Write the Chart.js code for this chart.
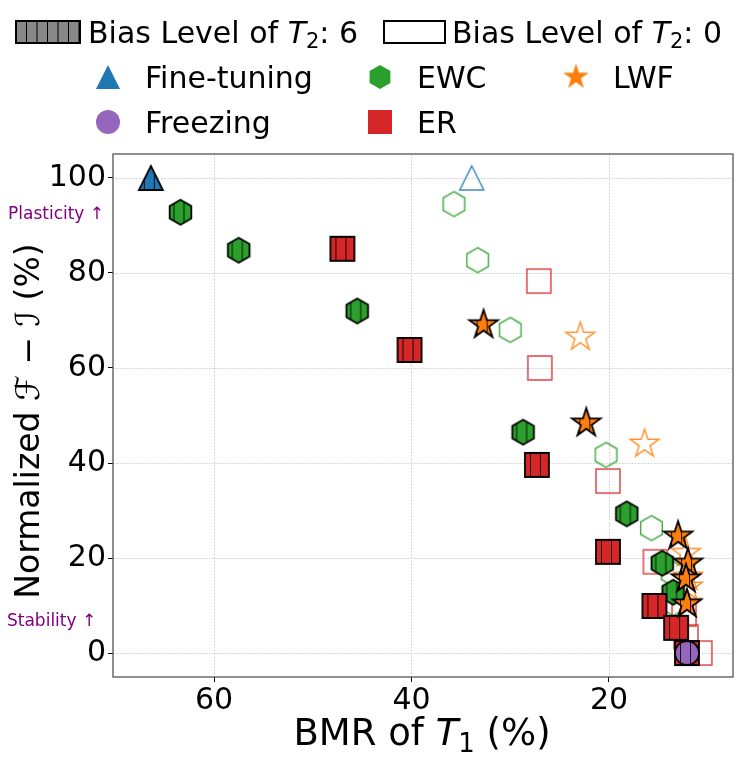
<!DOCTYPE html>
<html>
<head>
<meta charset="utf-8">
<script src="https://cdn.jsdelivr.net/npm/chart.js@4.4.1/dist/chart.umd.min.js"></script>
<style>
  html, body { margin: 0; padding: 0; background: #fff; }
</style>
</head>
<body>
<canvas id="chart" width="747" height="759"></canvas>
<script>
// tick labels
const xTicks = [60, 40, 20]
const yTicks = [0, 20, 40, 60, 80, 100]

// bias level of T2 = 6 (hatched markers, black edge)
const ftBiasX = [66.4]
const ftBiasY = [100]
const ewcBiasX = [63.4, 57.5, 45.5, 28.7, 18.2, 14.6, 13.5]
const ewcBiasY = [92.8, 84.8, 72.0, 46.5, 29.3, 18.9, 12.8]
const erBiasX = [47.0, 40.2, 27.3, 20.1, 15.4, 13.2, 12.1]
const erBiasY = [85.1, 63.8, 39.6, 21.3, 9.9, 5.3, 0]
const lwfBiasX = [32.7, 22.3, 13.0, 12.0, 12.2, 12.1]
const lwfBiasY = [69.1, 48.4, 24.6, 18.9, 15.6, 10.3]
const frzBiasX = [12.1]
const frzBiasY = [0]

// bias level of T2 = 0 (hollow markers)
const ftCleanX = [33.9]
const ftCleanY = [100]
const ewcCleanX = [35.7, 33.3, 30.0, 20.3, 15.7, 13.6, 13.5]
const ewcCleanY = [94.5, 82.7, 68.0, 41.7, 26.3, 16.8, 10.5]
const erCleanX = [27.1, 27.0, 20.1, 15.3, 12.4, 12.2, 10.8]
const erCleanY = [78.3, 60.0, 36.2, 19.2, 8.2, 3.4, 0]
const lwfCleanX = [22.9, 16.4, 12.2, 12.0, 12.0, 12.1]
const lwfCleanY = [66.5, 44.0, 21.0, 16.0, 13.9, 10.5]

const BLUE = '#1f77b4', ORANGE = '#ff7f0e', GREEN = '#2ca02c', RED = '#d62728', PURPLE = '#9467bd'
const FONT = '"DejaVu Sans", "Liberation Sans", sans-serif'

function shapePath(c, shape, cx, cy, s) {
  c.beginPath()
  if (shape === 'triangle') {
    c.moveTo(cx, cy - s / 2)
    c.lineTo(cx + s / 2, cy + s / 2)
    c.lineTo(cx - s / 2, cy + s / 2)
  } else if (shape === 'square') {
    c.rect(cx - s / 2, cy - s / 2, s, s)
  } else if (shape === 'circle') {
    c.arc(cx, cy, s / 2, 0, Math.PI * 2)
  } else if (shape === 'hexagon') {
    for (let i = 0; i < 6; i++) {
      let a = -Math.PI / 2 + i * Math.PI / 3
      c.lineTo(cx + s / 2 * Math.cos(a), cy + s / 2 * Math.sin(a))
    }
  } else if (shape === 'star') {
    for (let i = 0; i < 10; i++) {
      let r = i % 2 ? s / 2 * 0.382 : s / 2
      let a = -Math.PI / 2 + i * Math.PI / 5
      c.lineTo(cx + r * Math.cos(a), cy + r * Math.sin(a))
    }
  }
  c.closePath()
}

// marker sprite: hatched = filled with vertical lines + black edge, else hollow coloured edge
function makeMarker(shape, size, color, mode) {
  let dim = Math.ceil(size + 6)
  let cv = document.createElement('canvas')
  cv.width = dim
  cv.height = dim
  let c = cv.getContext('2d')
  let m = dim / 2
  shapePath(c, shape, m, m, size)
  if (mode === 'hatch') {
    c.fillStyle = color
    c.fill()
    c.save()
    c.clip()
    c.strokeStyle = 'rgba(0,0,0,0.85)'
    c.lineWidth = 1
    for (let x = m - 40 + 3.5; x < dim; x += 10) {
      c.beginPath(); c.moveTo(x, 0); c.lineTo(x, dim); c.stroke()
    }
    c.restore()
    shapePath(c, shape, m, m, size)
    c.strokeStyle = '#000'
    c.lineWidth = 1.8
    c.lineJoin = 'miter'
    c.stroke()
  } else if (mode === 'hollow') {
    c.globalAlpha = 0.85
    c.strokeStyle = color
    c.lineWidth = 1.5
    c.stroke()
  } else {
    c.fillStyle = color
    c.fill()
  }
  return cv
}

const sizes = { triangle: 24, hexagon: 25, square: 24, star: 30, circle: 24 }

function pts(xs, ys) {
  return xs.map((x, i) => ({ x: x, y: ys[i] }))
}

function ds(label, xs, ys, shape, color, mode, order) {
  return {
    label: label,
    data: pts(xs, ys),
    pointStyle: makeMarker(shape, sizes[shape], color, mode),
    pointRadius: 12,
    showLine: false,
    order: order
  }
}

const datasets = [
  ds('Freezing (6)', frzBiasX, frzBiasY, 'circle', PURPLE, 'hatch', 0),
  ds('LWF (6)', lwfBiasX, lwfBiasY, 'star', ORANGE, 'hatch', 1),
  ds('ER (6)', erBiasX, erBiasY, 'square', RED, 'hatch', 2),
  ds('EWC (6)', ewcBiasX, ewcBiasY, 'hexagon', GREEN, 'hatch', 3),
  ds('Fine-tuning (6)', ftBiasX, ftBiasY, 'triangle', BLUE, 'hatch', 4),
  ds('LWF (0)', lwfCleanX, lwfCleanY, 'star', ORANGE, 'hollow', 5),
  ds('ER (0)', erCleanX, erCleanY, 'square', RED, 'hollow', 6),
  ds('EWC (0)', ewcCleanX, ewcCleanY, 'hexagon', GREEN, 'hollow', 7),
  ds('Fine-tuning (0)', ftCleanX, ftCleanY, 'triangle', BLUE, 'hollow', 8)
]

// text made of several font runs (for T_2, script letters)
function drawRuns(c, parts, x, y, align) {
  let w = 0
  parts.forEach(p => { c.font = p.f; w += c.measureText(p.t).width })
  let cx = align === 'center' ? x - w / 2 : x
  parts.forEach(p => {
    c.font = p.f
    c.fillText(p.t, cx, y + (p.dy || 0))
    cx += c.measureText(p.t).width
  })
}

function biasLabel(v) {
  return [
    { t: 'Bias Level of ', f: '30px ' + FONT },
    { t: 'T', f: 'italic 30px ' + FONT },
    { t: '2', f: '21px ' + FONT, dy: 5 },
    { t: ': ' + v, f: '30px ' + FONT }
  ]
}

const legendItems = [
  { label: 'Fine-tuning', shape: 'triangle', color: BLUE, x: 108, y: 77 },
  { label: 'EWC', shape: 'hexagon', color: GREEN, x: 380, y: 77 },
  { label: 'LWF', shape: 'star', color: ORANGE, x: 576, y: 77 },
  { label: 'Freezing', shape: 'circle', color: PURPLE, x: 108, y: 122 },
  { label: 'ER', shape: 'square', color: RED, x: 380, y: 122 }
]

// dotted grid through the scales
const dotGrid = {
  id: 'dotGrid',
  beforeDatasetsDraw(chart) {
    const c = chart.ctx
    const a = chart.chartArea
    const xs = chart.scales.x
    const ys = chart.scales.y
    c.save()
    c.strokeStyle = '#cccccc'
    c.lineWidth = 1
    c.setLineDash([1.6, 1.6])
    xTicks.forEach(v => {
      let px = Math.round(xs.getPixelForValue(v)) + 0.5
      c.beginPath(); c.moveTo(px, a.top); c.lineTo(px, a.bottom); c.stroke()
    })
    yTicks.forEach(v => {
      let py = Math.round(ys.getPixelForValue(v)) + 0.5
      c.beginPath(); c.moveTo(a.left, py); c.lineTo(a.right, py); c.stroke()
    })
    c.restore()
  }
}

const decor = {
  id: 'decor',
  afterDraw(chart) {
    const c = chart.ctx
    const a = chart.chartArea
    c.save()
    c.strokeStyle = '#555'
    c.lineWidth = 1.3
    c.strokeRect(a.left, a.top, a.right - a.left, a.bottom - a.top)

    c.textAlign = 'left'
    c.textBaseline = 'alphabetic'
    c.fillStyle = '#000'

    // bias level patches
    c.fillStyle = '#888'
    c.fillRect(16, 21, 64, 22)
    c.save()
    c.beginPath(); c.rect(16, 21, 64, 22); c.clip()
    c.strokeStyle = '#000'; c.lineWidth = 1
    for (let x = 26.5; x < 80; x += 10.5) {
      c.beginPath(); c.moveTo(x, 21); c.lineTo(x, 43); c.stroke()
    }
    c.restore()
    c.strokeStyle = '#000'; c.lineWidth = 2
    c.strokeRect(16, 21, 64, 22)
    c.fillStyle = '#fff'
    c.fillRect(384, 21, 61, 22)
    c.strokeRect(384, 21, 61, 22)
    c.fillStyle = '#000'
    drawRuns(c, biasLabel(6), 88, 43)
    drawRuns(c, biasLabel(0), 452, 43)

    // method legend
    legendItems.forEach(it => {
      let sz = it.shape === 'star' ? 27 : 24
      let img = makeMarker(it.shape, sz, it.color, 'fill')
      c.drawImage(img, it.x - img.width / 2, it.y - img.height / 2)
      c.font = '30px ' + FONT
      c.fillStyle = '#000'
      c.fillText(it.label, it.x + 37, it.y + 11)
    })

    // plasticity / stability hints
    c.fillStyle = '#800080'
    c.font = '17px ' + FONT
    c.fillText('Plasticity \u2191', 8, 219)
    c.fillText('Stability \u2191', 7, 626)

    // axis titles
    c.fillStyle = '#000'
    drawRuns(c, [
      { t: 'BMR of ', f: '37px ' + FONT },
      { t: 'T', f: 'italic 37px ' + FONT },
      { t: '1', f: '26px ' + FONT, dy: 7 },
      { t: ' (%)', f: '37px ' + FONT }
    ], 422, 745, 'center')

    c.save()
    c.translate(39, 421)
    c.rotate(-Math.PI / 2)
    drawRuns(c, [
      { t: 'Normalized ', f: '33px ' + FONT },
      { t: '\u2131', f: 'italic 33px ' + FONT },
      { t: ' \u2212 ', f: '33px ' + FONT },
      { t: '\u2110', f: 'italic 33px ' + FONT },
      { t: ' (%)', f: '33px ' + FONT }
    ], 0, 0, 'center')
    c.restore()
    c.restore()
  }
}

const gridOpts = {
  drawOnChartArea: false,
  drawTicks: true,
  tickLength: 5,
  tickColor: '#000',
  tickWidth: 1
}

new Chart(document.getElementById('chart').getContext('2d'), {
  type: 'scatter',
  data: { datasets: datasets },
  options: {
    responsive: false,
    animation: false,
    events: [],
    layout: { padding: { left: 33, right: 14, top: 154, bottom: 30 } },
    plugins: { legend: { display: false }, tooltip: { enabled: false } },
    scales: {
      x: {
        type: 'linear',
        reverse: true,
        min: 7.44,
        max: 70.23,
        afterBuildTicks: s => { s.ticks = xTicks.map(v => ({ value: v })) },
        afterFit: s => { s.height = 52 },
        grid: gridOpts,
        border: { display: false },
        ticks: { font: { family: FONT, size: 30 }, color: '#000', padding: 1, maxRotation: 0 }
      },
      y: {
        type: 'linear',
        min: -5.05,
        max: 105.05,
        afterBuildTicks: s => { s.ticks = yTicks.map(v => ({ value: v })) },
        afterFit: s => { s.width = 80 },
        grid: gridOpts,
        border: { display: false },
        ticks: { font: { family: FONT, size: 30 }, color: '#000', padding: 2 }
      }
    }
  },
  plugins: [dotGrid, decor]
})
</script>
</body>
</html>
